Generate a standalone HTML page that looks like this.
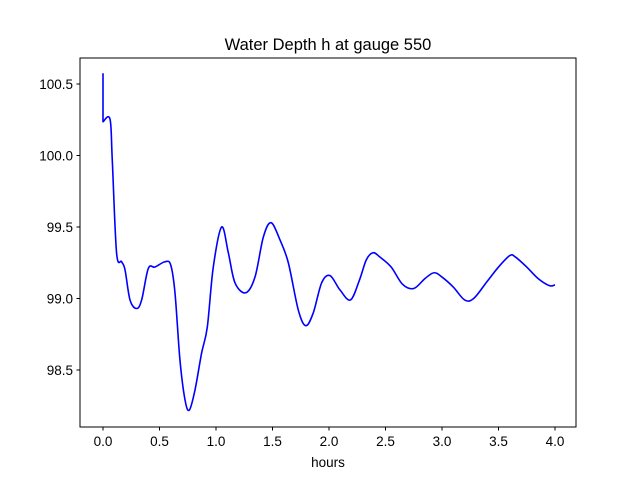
<!DOCTYPE html>
<html><head><meta charset="utf-8"><style>body{margin:0;background:#fff}svg{display:block;font-family:"Liberation Sans","DejaVu Sans",sans-serif}</style></head>
<body>
<svg id="chart" width="640" height="480">
<rect x="0" y="0" width="640" height="480" fill="#fff"/>
<text x="328" y="50" font-size="16.5" text-anchor="middle">Water Depth h at gauge 550</text>
<g id="axes"></g>
<path id="line" fill="none" stroke="#0000ff" stroke-width="1.6" stroke-linejoin="round"/>
<rect x="80" y="58" width="496" height="369" fill="none" stroke="#000" stroke-width="1"/>
<text x="328" y="467" font-size="13.5" text-anchor="middle">hours</text>
</svg>
<script>
const hours=[0,0,0.062,0.082,0.12,0.165,0.195,0.239,0.298,0.342,0.401,0.46,0.549,0.599,0.637,0.681,0.726,0.764,0.814,0.873,0.923,0.976,1.05,1.109,1.168,1.263,1.345,1.419,1.487,1.566,1.64,1.728,1.794,1.861,1.935,2.009,2.097,2.19,2.27,2.33,2.39,2.45,2.55,2.65,2.75,2.85,2.93,3.0,3.1,3.2,3.28,3.4,3.5,3.6,3.65,3.75,3.85,3.95,4.0];
const depth=[100.575,100.236,100.255,99.97,99.32,99.257,99.2,98.99,98.93,98.99,99.21,99.22,99.257,99.235,99.04,98.57,98.29,98.22,98.36,98.62,98.80,99.22,99.50,99.32,99.11,99.04,99.15,99.43,99.53,99.41,99.25,98.92,98.81,98.90,99.11,99.16,99.06,98.99,99.13,99.27,99.32,99.29,99.22,99.10,99.07,99.14,99.18,99.15,99.08,98.99,99.0,99.12,99.22,99.30,99.29,99.22,99.14,99.09,99.095];
const xTicks=[0,0.5,1,1.5,2,2.5,3,3.5,4];
const xTickLabels=["0.0","0.5","1.0","1.5","2.0","2.5","3.0","3.5","4.0"];
const yTicks=[98.5,99,99.5,100,100.5];
const yTickLabels=["98.5","99.0","99.5","100.0","100.5"];
const X=h=>103+113*h, Y=v=>84+(100.5-v)*143;
const ns="http://www.w3.org/2000/svg", ax=document.getElementById('axes');
function mk(t,a){const e=document.createElementNS(ns,t);for(const k in a)e.setAttribute(k,a[k]);ax.appendChild(e);return e;}
xTicks.forEach((t,i)=>{
 const l=mk('line',{x1:X(t),x2:X(t),y1:427,y2:430.5,stroke:'#000'});
 
 
 const s=mk('text',{x:X(t),y:446,'font-size':13.5,'text-anchor':'middle'});s.textContent=xTickLabels[i];
 
 
});
yTicks.forEach((t,i)=>{
 const l=mk('line',{x1:76.5,x2:80,y1:Y(t),y2:Y(t),stroke:'#000'});
 
 
 const s=mk('text',{x:73,y:Y(t)+5,'font-size':13.5,'text-anchor':'end'});s.textContent=yTickLabels[i];
 
 
});
const P=hours.map((h,i)=>[X(h),Y(depth[i])]);
let d='M'+P[0][0]+','+P[0][1]+' L'+P[1][0]+','+P[1][1];
for(let i=1;i<P.length-1;i++){
 const p0=P[Math.max(1,i-1)],p1=P[i],p2=P[i+1],p3=P[Math.min(P.length-1,i+2)];
 const c1=[p1[0]+(p2[0]-p0[0])/6,p1[1]+(p2[1]-p0[1])/6];
 const c2=[p2[0]-(p3[0]-p1[0])/6,p2[1]-(p3[1]-p1[1])/6];
 d+=' C'+c1.join(',')+' '+c2.join(',')+' '+p2.join(',');
}
document.getElementById('line').setAttribute('d',d);
</script>
</body></html>
